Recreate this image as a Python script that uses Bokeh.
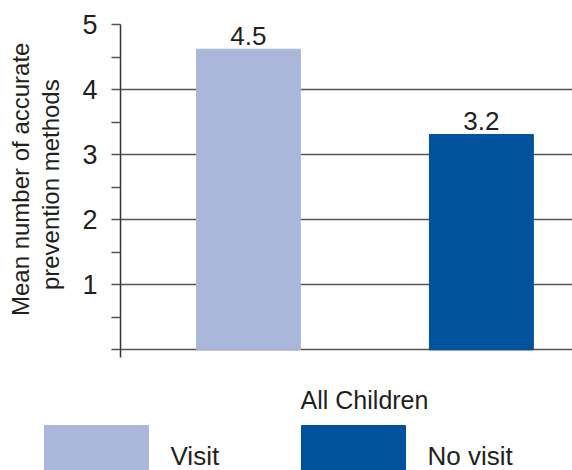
import math
from bokeh.plotting import figure
from bokeh.layouts import column, row
from bokeh.models import ColumnDataSource, Range1d, FixedTicker
from bokeh.embed import file_html
from bokeh.resources import INLINE
from bokeh.core.properties import value

# ---- data ----
categories = ["Visit", "No visit"]
values = [4.62, 3.31]
value_labels = ["4.5", "3.2"]
colors = ["#aab7da", "#00529c"]
y_ticks = [0, 1, 2, 3, 4, 5]
y_minor_ticks = [0.5, 1.5, 2.5, 3.5, 4.5]
y_tick_labels = ["", "1", "2", "3", "4", "5"]
group_label = "All Children"
y_title = ["Mean number of accurate", "prevention methods"]

FONT = "Liberation Sans"
TXT = "#231f20"
GRID = "#555555"


def bare(fig):
    fig.axis.visible = False
    fig.grid.visible = False
    fig.outline_line_color = None
    return fig


# ---------- left strip: rotated y title ----------
tf = bare(figure(width=70, height=370, output_backend="svg", toolbar_location=None,
                 x_range=Range1d(0, 70), y_range=Range1d(0, 370),
                 min_border=0))
tf.text(x=[20, 50], y=[370 - 172, 370 - 178], text=y_title, angle=math.pi / 2,
        text_align="center", text_baseline="middle",
        text_font=value(FONT), text_font_size="24px", text_color=TXT)

# ---------- main chart ----------
xs = list(range(len(categories)))
src = ColumnDataSource(dict(x=xs, top=values, lab=value_labels, color=colors))

p = figure(width=502, height=370, output_backend="svg", toolbar_location=None,
           x_range=Range1d(-0.549, 1.391), y_range=Range1d(-0.118, 5.0),
           min_border_left=50, min_border_right=0, min_border_top=24,
           min_border_bottom=13)
p.outline_line_color = None
p.xaxis.visible = False
p.xgrid.visible = False

yax = p.yaxis[0]
yax.ticker = FixedTicker(ticks=y_ticks, minor_ticks=y_minor_ticks)
yax.major_label_overrides = {t: l for t, l in zip(y_ticks, y_tick_labels)}
yax.major_label_text_font = FONT
yax.major_label_text_font_size = "27px"
yax.major_label_text_color = TXT
yax.major_label_standoff = 14
yax.axis_line_color = "#333333"
yax.axis_line_width = 1.5
yax.major_tick_line_color = GRID
yax.major_tick_line_width = 1.5
yax.major_tick_out = 9
yax.major_tick_in = 0
yax.minor_tick_line_color = GRID
yax.minor_tick_line_width = 1.5
yax.minor_tick_out = 9
yax.minor_tick_in = 0

p.ygrid.ticker = FixedTicker(ticks=y_ticks)
p.ygrid.grid_line_color = GRID
p.ygrid.grid_line_width = 1.5

p.vbar(x="x", top="top", width=0.446, bottom=0, color="color", source=src)
p.text(x="x", y="top", text="lab", source=src, text_align="center",
       text_baseline="middle", y_offset=-13,
       text_font=value(FONT), text_font_size="26px", text_color=TXT)

# ---------- bottom strip: group label and legend ----------
lf = bare(figure(width=572, height=100, output_backend="svg", toolbar_location=None,
                 x_range=Range1d(0, 572), y_range=Range1d(0, 100),
                 min_border=0))
lf.text(x=[364], y=[71], text=[group_label], text_align="center",
        text_baseline="middle", text_font=value(FONT),
        text_font_size="25px", text_color=TXT)

sw_left = [44 + 257 * i for i in range(len(categories))]
lsrc = ColumnDataSource(dict(
    left=sw_left, right=[x + 104 for x in sw_left],
    tx=[x + 126 for x in sw_left], lab=categories, color=colors))
lf.quad(left="left", right="right", top=45, bottom=-10, color="color", source=lsrc)
lf.text(x="tx", y=15, text="lab", source=lsrc, text_align="left",
        text_baseline="middle", text_font=value(FONT),
        text_font_size="26px", text_color=TXT)

layout = column(row(tf, p, spacing=0), lf, spacing=0)
open("out.html", "w").write(file_html(layout, INLINE))
